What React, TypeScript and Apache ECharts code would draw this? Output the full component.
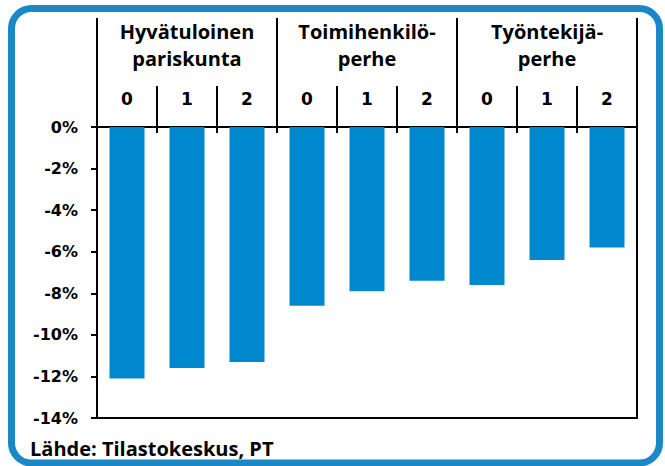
import React, { useEffect, useRef } from "react";
import * as echarts from "echarts";

const subCategories = ["0", "1", "2", "0", "1", "2", "0", "1", "2"];
const groupLabels = ["Hyvätuloinen\npariskunta", "Toimihenkilö-\nperhe", "Työntekijä-\nperhe"];
const values = [-12.1, -11.6, -11.3, -8.6, -7.9, -7.4, -7.6, -6.4, -5.8];
const yMin = -14;
const yMax = 0;
const yInterval = 2;
const sourceText = "Lähde: Tilastokeskus, PT";

const FONT = '"Open Sans", Roboto, "DejaVu Sans", sans-serif';
const NUM_FONT = '"DejaVu Sans", "Open Sans", sans-serif';
const BLUE_BORDER = "#1a87c9";
const BAR_BLUE = "#0088cf";

export default function App() {
  const ref = useRef<HTMLDivElement>(null);
  useEffect(() => {
    if (!ref.current) return;
    const chart = echarts.init(ref.current, undefined, { renderer: "svg" });
    const lineStyle = { color: "#000", width: 2 };
    chart.setOption({
      animation: false,
      backgroundColor: "#fff",
      textStyle: { fontFamily: FONT },
      grid: { left: 97, right: 28, top: 127, bottom: 48, containLabel: false },
      xAxis: [
        {
          type: "category",
          data: subCategories,
          position: "top",
          axisLine: { show: true, lineStyle },
          axisTick: { show: true, length: 41, interval: 0, lineStyle },
          axisLabel: { show: true, interval: 0, margin: 20, fontSize: 17, fontWeight: "bold", color: "#000", fontFamily: NUM_FONT },
          splitLine: { show: false },
        },
        {
          type: "category",
          data: subCategories,
          position: "top",
          axisLine: { show: false },
          axisTick: { show: true, inside: true, length: 6, interval: 0, lineStyle },
          axisLabel: { show: false },
          splitLine: { show: false },
        },
        {
          type: "category",
          data: groupLabels,
          position: "top",
          axisLine: { show: false },
          axisTick: { show: true, length: 109, interval: 0, lineStyle },
          axisLabel: { show: true, interval: 0, margin: 55, fontSize: 20, lineHeight: 27, fontWeight: "bold", color: "#000", fontFamily: FONT, align: "center" },
          splitLine: { show: false },
        },
        {
          type: "category",
          data: subCategories,
          position: "bottom",
          axisLine: { show: true, lineStyle },
          axisTick: { show: false },
          axisLabel: { show: false },
          splitLine: { show: false },
        },
      ],
      yAxis: [
        {
          type: "value",
          min: yMin,
          max: yMax,
          interval: yInterval,
          axisLine: { show: true, lineStyle },
          axisTick: { show: true, length: 6, lineStyle },
          axisLabel: { show: true, margin: 19, fontSize: 16, fontWeight: "bold", color: "#000", fontFamily: NUM_FONT, formatter: (v: number) => `${v}%` },
          splitLine: { show: false },
        },
        {
          type: "value",
          position: "right",
          min: yMin,
          max: yMax,
          interval: yInterval,
          axisLine: { show: true, lineStyle },
          axisTick: { show: false },
          axisLabel: { show: false },
          splitLine: { show: false },
        },
      ],
      series: [
        {
          type: "bar",
          xAxisIndex: 0,
          yAxisIndex: 0,
          data: values,
          barWidth: 35,
          itemStyle: { color: BAR_BLUE },
          z: 1,
        },
      ],
      graphic: [
        {
          type: "rect",
          shape: { x: 11.5, y: 8.5, width: 648, height: 454.5, r: 20 },
          style: { fill: "none", stroke: BLUE_BORDER, lineWidth: 7 },
          z: 100,
        },
        {
          type: "text",
          left: 30,
          top: 438,
          style: { text: sourceText, fontSize: 20, fontWeight: "bold", fill: "#000", fontFamily: FONT },
        },
      ],
    });
    return () => chart.dispose();
  }, []);
  return <div ref={ref} style={{ position: "absolute", left: 0, top: 0, width: 665, height: 466 }} />;
}
